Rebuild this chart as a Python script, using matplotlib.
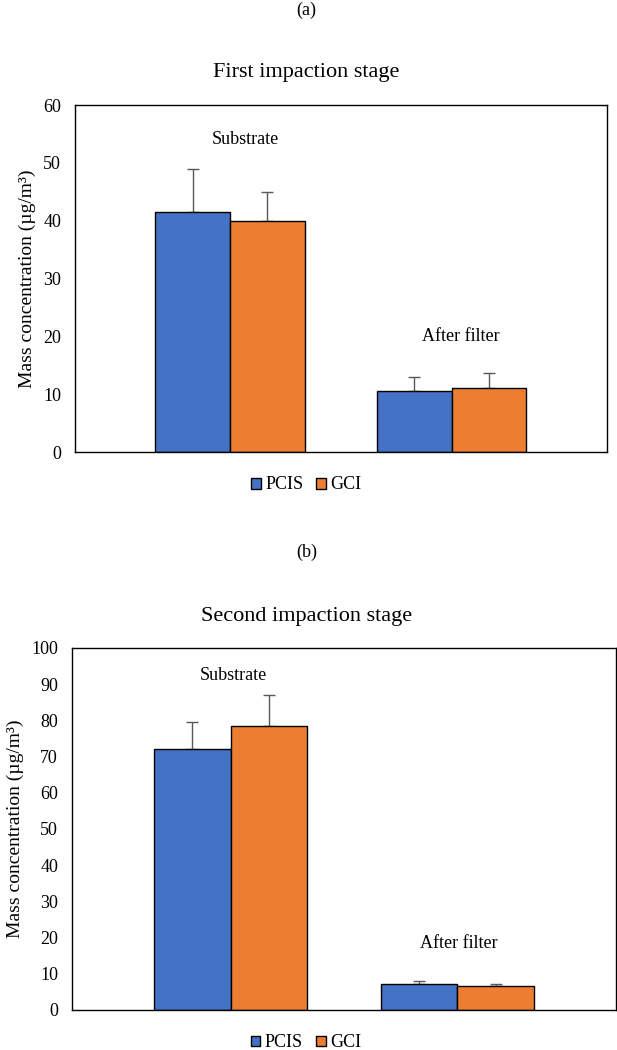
import matplotlib
matplotlib.use("Agg")
import matplotlib.pyplot as plt
import numpy as np

plt.rcParams['font.family'] = ['Liberation Serif', 'DejaVu Serif']

categories = ["Substrate", "After filter"]
series = ["PCIS", "GCI"]
colors = ["#4472C4", "#ED7D31"]

# panel (a): first impaction stage
first_pcis = [41.5, 10.6]
first_gci = [40.0, 11.0]
first_pcis_err = [7.5, 2.4]
first_gci_err = [4.9, 2.6]

# panel (b): second impaction stage
second_pcis = [72.0, 7.1]
second_gci = [78.5, 6.5]
second_pcis_err = [7.6, 0.9]
second_gci_err = [8.4, 0.7]


def draw_panel(ax, pcis, gci, pcis_err, gci_err, ymax, label_pos):
    x = np.arange(len(categories))
    w = 0.337
    for i, (vals, errs) in enumerate([(pcis, pcis_err), (gci, gci_err)]):
        ax.bar(x + (i - 0.5) * w, vals, w, color=colors[i], edgecolor='black',
               linewidth=1.0, label=series[i], zorder=2)
        ax.errorbar(x + (i - 0.5) * w, vals, yerr=[np.zeros(len(errs)), errs],
                    fmt='none', ecolor='#595959', elinewidth=1.0, capsize=4,
                    capthick=1.0, zorder=1)
    ax.set_xlim(-0.7, 1.7)
    ax.set_ylim(0, ymax)
    ax.set_yticks(np.arange(0, ymax + 1, 10))
    ax.set_xticks([])
    ax.tick_params(axis='y', length=0, labelsize=13, pad=10)
    for s in ax.spines.values():
        s.set_linewidth(1.0)
    ax.set_ylabel("Mass concentration (µg/m³)", fontsize=14, labelpad=5)
    for cat, (cx, cy) in zip(categories, label_pos):
        ax.text(cx, cy, cat, ha='center', va='center', fontsize=13)


def add_legend(ax, xpos, ypos):
    ax.legend(loc='center', bbox_to_anchor=(xpos, ypos), ncol=2, frameon=False,
              fontsize=13, handlelength=0.55, handleheight=0.55,
              handletextpad=0.25, columnspacing=0.7)


fig = plt.figure(figsize=(6.17, 10.5), dpi=100)

ax1 = fig.add_axes([0.1216, 0.5695, 0.862, 0.3305])
draw_panel(ax1, first_pcis, first_gci, first_pcis_err, first_gci_err, 60,
           [(0.07, 54.1), (1.04, 20.0)])
add_legend(ax1, 0.435, -0.095)

ax2 = fig.add_axes([0.1167, 0.0381, 0.8817, 0.3448])
draw_panel(ax2, second_pcis, second_gci, second_pcis_err, second_gci_err, 100,
           [(0.013, 92.3), (1.006, 18.4)])
add_legend(ax2, 0.43, -0.091)

fig.text(0.497, 0.99, "(a)", ha='center', va='center', fontsize=13)
fig.text(0.497, 0.931, "First impaction stage", ha='center', va='center', fontsize=16)
fig.text(0.497, 0.474, "(b)", ha='center', va='center', fontsize=13)
fig.text(0.497, 0.413, "Second impaction stage", ha='center', va='center', fontsize=16)

fig.savefig("out.png", dpi=100)
